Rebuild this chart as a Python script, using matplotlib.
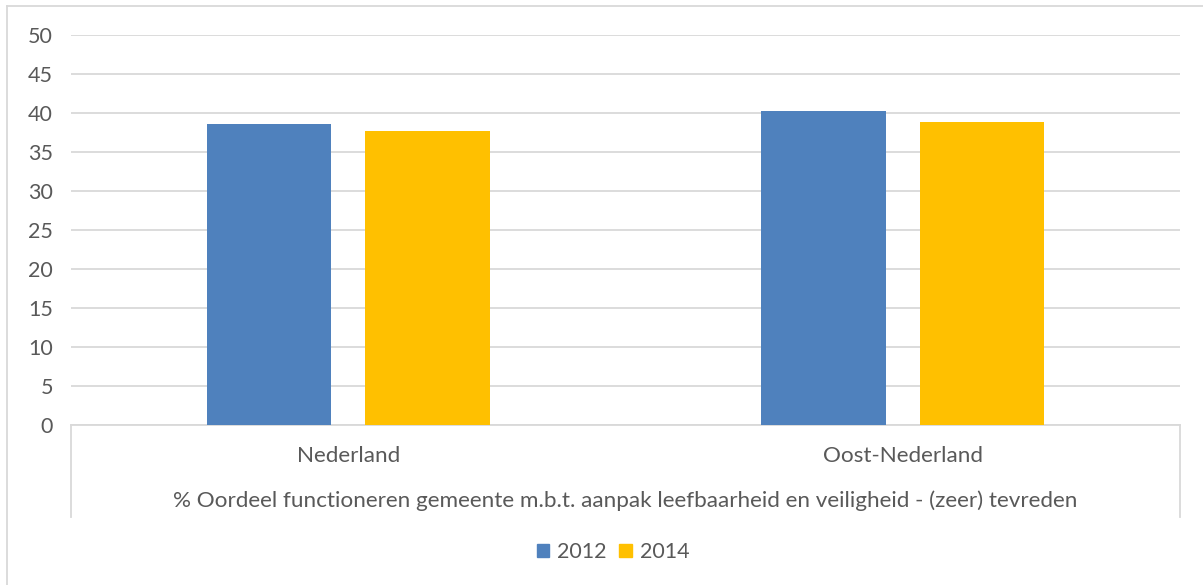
import matplotlib
matplotlib.use("Agg")
import matplotlib.pyplot as plt
from matplotlib.lines import Line2D
from matplotlib.patches import Patch
import numpy as np

categories = ["Nederland", "Oost-Nederland"]
series_names = ["2012", "2014"]
values_2012 = [38.6, 40.2]
values_2014 = [37.7, 38.8]
y_ticks = [0, 5, 10, 15, 20, 25, 30, 35, 40, 45, 50]
axis_title = "% Oordeel functioneren gemeente m.b.t. aanpak leefbaarheid en veiligheid - (zeer) tevreden"

colors = ["#4F81BD", "#FFC000"]
text_color = "#595959"
grid_color = "#D9D9D9"
plt.rcParams['font.family'] = ['Lato', 'DejaVu Sans']

W, H = 1203, 585
fig = plt.figure(figsize=(W / 100, H / 100), dpi=100)
L, R, T, B = 71, 1180, 35, 425
ax = fig.add_axes([L / W, 1 - B / H, (R - L) / W, (B - T) / H])

x = np.arange(len(categories))
bw = 0.225
off = 0.143
ax.bar(x - off, values_2012, bw, color=colors[0], label=series_names[0], zorder=3)
ax.bar(x + off, values_2014, bw, color=colors[1], label=series_names[1], zorder=3)

ax.set_xlim(-0.5, len(categories) - 0.5)
ax.set_ylim(0, 50)
ax.set_yticks(y_ticks)
ax.set_yticklabels([str(v) for v in y_ticks], fontsize=15.5, color=text_color)
ax.tick_params(axis='y', length=0, pad=13)
ax.set_xticks([])
ax.yaxis.grid(True, color=grid_color, linewidth=1.3, zorder=0)
ax.set_axisbelow(True)
for s in ["top", "right", "left"]:
    ax.spines[s].set_visible(False)
ax.spines["bottom"].set_color(grid_color)
ax.spines["bottom"].set_linewidth(1.3)

# category box lines
box_bottom = -(517 - 425) / (B - T)
for xx in (0, 1):
    ax.add_line(Line2D([xx, xx], [0, box_bottom], transform=ax.transAxes,
                       color=grid_color, linewidth=1.3, clip_on=False))

for i, c in enumerate(categories):
    ax.text(x[i], -(456 - 425) / (B - T), c, transform=ax.get_xaxis_transform(),
            ha='center', va='center', fontsize=16.2, color=text_color)
ax.text(0.5, -(501 - 425) / (B - T), axis_title, transform=ax.transAxes,
        ha='center', va='center', fontsize=16.2, color=text_color)

handles = [Patch(color=colors[0], label=series_names[0]),
           Patch(color=colors[1], label=series_names[1])]
fig.legend(handles=handles, loc='center', bbox_to_anchor=(613 / W, 1 - 552 / H),
           ncol=2, frameon=False, fontsize=15.5, handlelength=0.6, handleheight=0.6,
           handletextpad=0.35, columnspacing=0.6, labelcolor=text_color)

# outer chart border
fig.add_artist(Line2D([7 / W, 1], [1 - 6 / H, 1 - 6 / H], transform=fig.transFigure,
                      color=grid_color, linewidth=1.3))
fig.add_artist(Line2D([7 / W, 7 / W], [0, 1 - 6 / H], transform=fig.transFigure,
                      color=grid_color, linewidth=1.3))

fig.savefig("out.png", dpi=100, facecolor="white")
